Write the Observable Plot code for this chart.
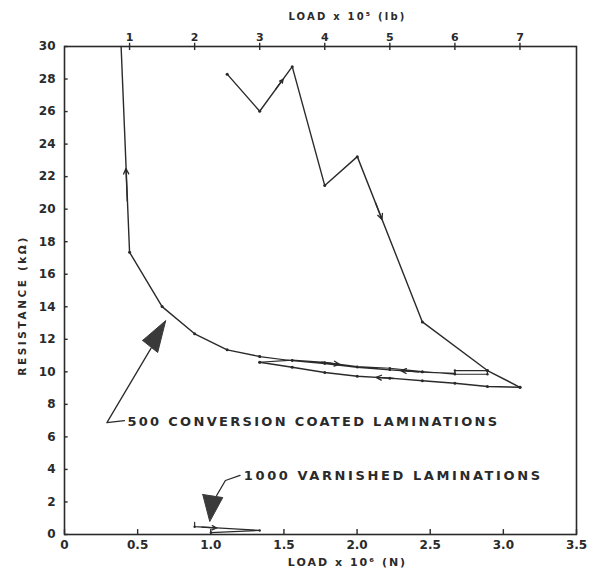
<!DOCTYPE html>
<html><head><meta charset="utf-8">
<script src="https://cdn.jsdelivr.net/npm/d3@7"></script>
<script src="https://cdn.jsdelivr.net/npm/@observablehq/plot@0.6"></script>
<style>body{margin:0;background:#fff;}</style>
</head><body><div id="chart"></div>
<script>
// 1e5 lb -> 1e6 N
const LB_TO_N = 0.4448;

// 500 conversion coated laminations: load (1e5 lb), resistance (kΩ)
const loadingLb = [2.5, 3, 3.5, 4, 4.5, 5.5, 6.5, 7];
const loadingR  = [28.3, 26.02, 28.76, 21.45, 23.23, 13.07, 10.08, 9.05];
const unloadLowerLb = [7, 6.5, 6, 5.5, 5, 4.5, 4, 3.5, 3];
const unloadLowerR  = [9.05, 9.10, 9.30, 9.45, 9.61, 9.73, 9.96, 10.28, 10.59];
const cycleLb = [3, 3.5, 4, 4.5, 5, 5.5, 6, 6.5, 6.5, 6, 6, 5.5, 5, 4.5, 4, 3.5, 3];
const cycleR  = [10.59, 10.72, 10.58, 10.32, 10.22, 10.02, 9.85, 9.85, 10.08, 10.08, 9.9, 9.98, 10.12, 10.28, 10.5, 10.68, 10.94];
const unloadFinalLb = [3, 2.5, 2, 1.5, 1, 0.87];
const unloadFinalR  = [10.94, 11.35, 12.34, 14.01, 17.35, 30];

// 1000 varnished laminations
const varnishedLb = [2, 2, 3, 2.25];
const varnishedR  = [0.75, 0.48, 0.25, 0.12];

// direction arrows (load 1e6 N, resistance kΩ)
const arrowN1 = [0.429, 1.4456, 2.1261, 2.25, 1.76, 2.42, 0.94];
const arrowR1 = [20.5, 27.39, 20.39, 9.59, 10.60, 10.0, 0.454];
const arrowN2 = [0.420, 1.4945, 2.1706, 2.13, 1.88, 2.30, 1.04];
const arrowR2 = [22.5, 27.99, 19.37, 9.66, 10.46, 10.07, 0.40];

// annotations (load 1e6 N, resistance kΩ)
const labelCoated = "500 CONVERSION COATED LAMINATIONS";
const labelVarnished = "1000 VARNISHED LAMINATIONS";
const labelN = [0.43, 1.226];
const labelR = [6.95, 3.63];
const leader1N = [0.41, 0.29, 0.592];
const leader1R = [7.0, 6.88, 11.46];
const head1N = [0.534, 0.692, 0.637, 0.534];
const head1R = [11.93, 13.15, 11.19, 11.93];
const leader2N = [1.20, 1.10, 1.04];
const leader2R = [3.63, 3.32, 2.40];
const head2N = [0.945, 0.993, 1.082, 0.945];
const head2R = [2.46, 0.8, 2.27, 2.46];

// ticks
const xTicks = [0, 0.5, 1, 1.5, 2, 2.5, 3, 3.5];
const yTicks = [0, 2, 4, 6, 8, 10, 12, 14, 16, 18, 20, 22, 24, 26, 28, 30];
const lbTicks = [1, 2, 3, 4, 5, 6, 7];

const toPts = (lb, r) => lb.map((v, i) => ({x: v * LB_TO_N, y: r[i]}));
const toPtsN = (n, r) => n.map((v, i) => ({x: v, y: r[i]}));
const loading = toPts(loadingLb, loadingR);
const unloadLower = toPts(unloadLowerLb, unloadLowerR);
const cycle = toPts(cycleLb, cycleR);
const unloadFinal = toPts(unloadFinalLb, unloadFinalR);
const varnished = toPts(varnishedLb, varnishedR);
const arrows = arrowN1.map((v, i) => ({x1: v, y1: arrowR1[i], x2: arrowN2[i], y2: arrowR2[i]}));
const labels = [labelCoated, labelVarnished].map((t, i) => ({t, x: labelN[i], y: labelR[i]}));

const INK = "#2a2a2a";
const lineOpts = {x: "x", y: "y", stroke: INK, strokeWidth: 1.4};
const dotOpts = {x: "x", y: "y", r: 1.5, fill: INK};

const chart = Plot.plot({
  width: 596, height: 576,
  marginLeft: 64, marginRight: 20, marginTop: 46, marginBottom: 42,
  x: {domain: [0, 3.5]},
  y: {domain: [0, 30]},
  style: {fontFamily: "DejaVu Sans", color: INK, background: "white", overflow: "visible"},
  marks: [
    Plot.frame({stroke: INK, strokeWidth: 1.6}),
    Plot.axisY(yTicks, {anchor: "left", tickSize: 0, tickPadding: 9, label: null, fontSize: 12, fontWeight: "bold"}),
    Plot.axisX(xTicks, {anchor: "bottom", tickSize: 0, tickPadding: 6, label: null, fontSize: 12, fontWeight: "bold",
      tickFormat: d => d === 0 ? "0" : d.toFixed(1)}),
    Plot.axisX(lbTicks.map(v => v * LB_TO_N), {anchor: "top", tickSize: 0, tickPadding: 6, label: null, fontSize: 11, fontWeight: "bold",
      tickFormat: d => String(Math.round(d / LB_TO_N))}),
    Plot.ruleY(yTicks, {y: d => d, x1: d => 0, x2: d => 0.025, stroke: INK, strokeWidth: 1.4}),
    Plot.ruleX(xTicks, {x: d => d, y1: d => 0, y2: d => 0.3, stroke: INK, strokeWidth: 1.4}),
    Plot.ruleX(lbTicks, {x: d => d * LB_TO_N, y1: d => 30.2, y2: d => 29.75, stroke: INK, strokeWidth: 1.4, clip: false}),
    Plot.line(loading, lineOpts),
    Plot.line(unloadLower, lineOpts),
    Plot.line(cycle, {...lineOpts, strokeWidth: 1.2}),
    Plot.line(unloadFinal, lineOpts),
    Plot.line(varnished, {...lineOpts, strokeWidth: 1.2}),
    Plot.dot(loading, dotOpts),
    Plot.dot(unloadLower, dotOpts),
    Plot.dot(cycle, {...dotOpts, r: 1.2}),
    Plot.dot(unloadFinal.slice(0, -1), dotOpts),
    Plot.dot(varnished.slice(1), {...dotOpts, r: 1.2}),
    Plot.arrow(arrows, {x1: "x1", y1: "y1", x2: "x2", y2: "y2", stroke: INK, strokeWidth: 1.3, headLength: 7, headAngle: 50}),
    Plot.line(toPtsN(leader1N, leader1R), {...lineOpts, strokeWidth: 1.3}),
    Plot.line(toPtsN(head1N, head1R), {x: "x", y: "y", fill: "#3a3a3a", stroke: "#3a3a3a", strokeWidth: 1}),
    Plot.line(toPtsN(leader2N, leader2R), {...lineOpts, strokeWidth: 1.3}),
    Plot.line(toPtsN(head2N, head2R), {x: "x", y: "y", fill: "#3a3a3a", stroke: "#3a3a3a", strokeWidth: 1}),
    Plot.text(labels, {x: "x", y: "y", text: "t", textAnchor: "start", fontSize: 13, fontWeight: "bold", fill: INK}),
    Plot.text(["LOAD x 10⁵ (lb)"], {frameAnchor: "top", textAnchor: "middle", dx: 27, dy: -34, fontSize: 10, fontWeight: "bold", fill: INK}),
    Plot.text(["LOAD x 10⁶ (N)"], {frameAnchor: "bottom", textAnchor: "middle", dx: 27, dy: 31, fontSize: 11, fontWeight: "bold", fill: INK}),
    Plot.text(["RESISTANCE (kΩ)"], {frameAnchor: "left", textAnchor: "middle", dx: -42, dy: 15, rotate: -90, fontSize: 10.5, fontWeight: "bold", fill: INK})
  ]
});
document.getElementById("chart").appendChild(chart);

const spacing = {
  [labelCoated]: 2.3,
  [labelVarnished]: 2.6,
  "LOAD x 10⁵ (lb)": 2.2,
  "LOAD x 10⁶ (N)": 2.0,
  "RESISTANCE (kΩ)": 2.6
};
d3.select(chart).selectAll("text").each(function() {
  const s = spacing[this.textContent];
  if (s != null) this.style.letterSpacing = s + "px";
});
</script>
</body></html>
